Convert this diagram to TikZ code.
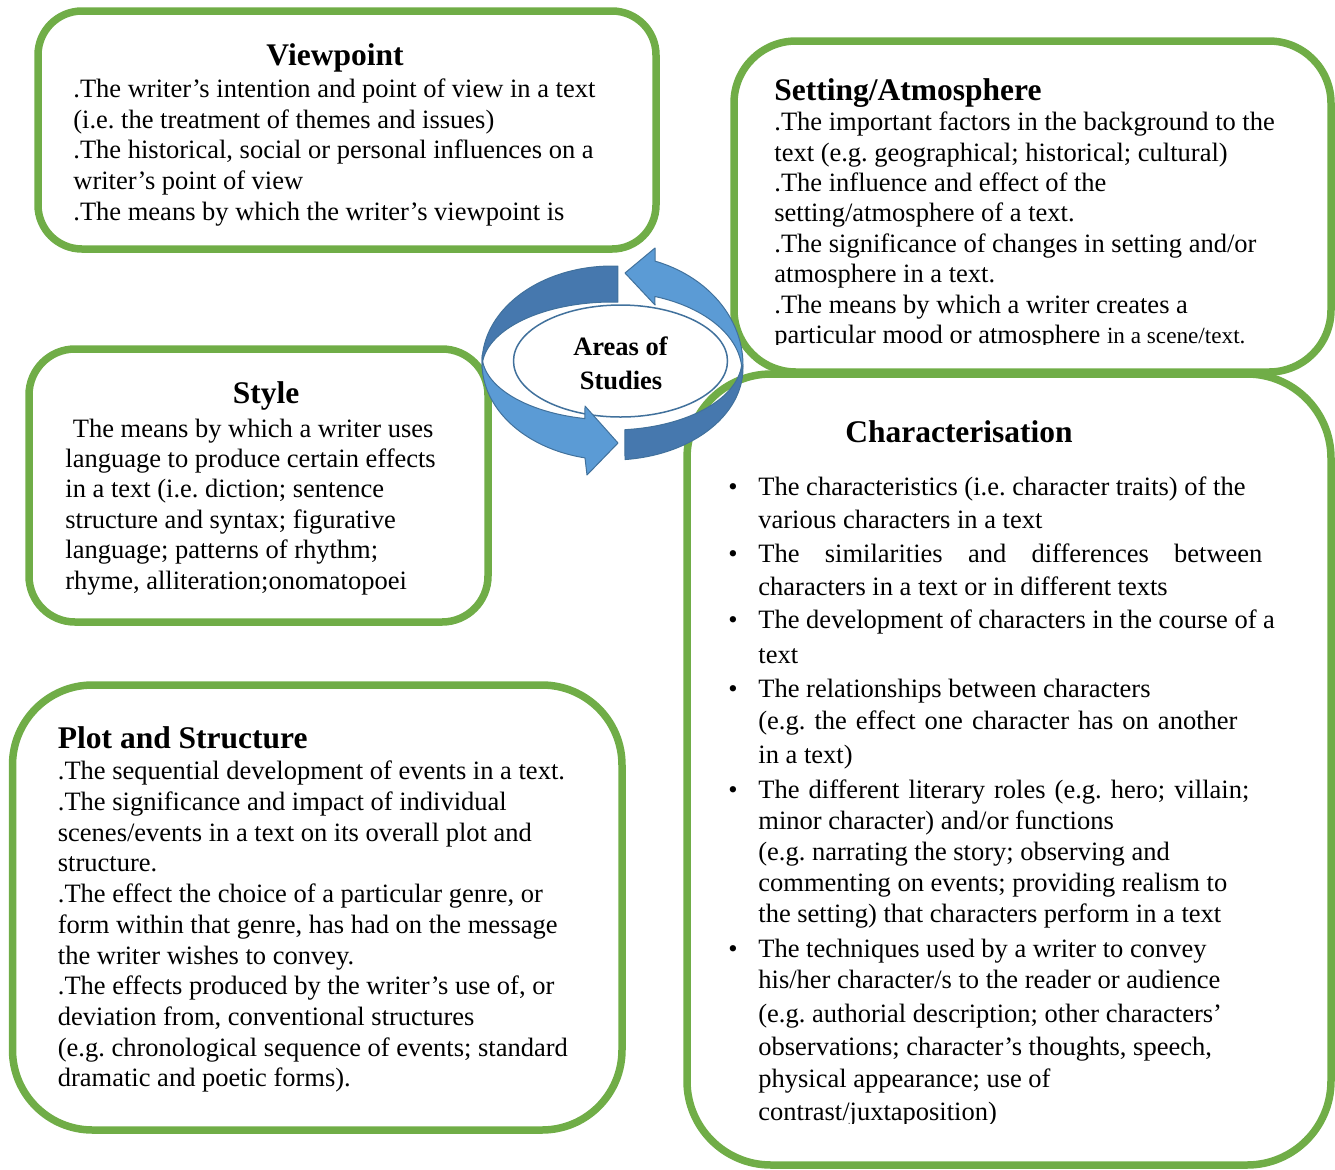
\documentclass[tikz,border=0pt]{standalone}
\usepackage{fontspec}
\setmainfont{Liberation Serif}
\usetikzlibrary{shapes.geometric}
\definecolor{boxgreen}{HTML}{70AD47}
\definecolor{bandLight}{HTML}{5B9BD5}
\definecolor{bandDark}{HTML}{4678AE}
\definecolor{bandEdge}{HTML}{41719C}
\newcommand{\bodyfont}{\fontsize{13.25pt}{15pt}\selectfont}
\newcommand{\titlefont}{\fontsize{15.75pt}{18pt}\selectfont\bfseries}
\frenchspacing
\tikzset{
  box/.style={draw=boxgreen, line width=3.75pt, rectangle, inner sep=0pt},
  ln/.style={anchor=base west, inner sep=0pt, font=\bodyfont},
  ttl/.style={anchor=base, inner sep=0pt, font=\titlefont},
  ttlw/.style={anchor=base west, inner sep=0pt, font=\titlefont},
  bul/.style={anchor=base, inner sep=0pt, font=\bodyfont},
  darkband/.style={fill=bandDark, draw=bandEdge, line width=0.5pt, line join=round},
  lightband/.style={fill=bandLight, draw=bandEdge, line width=0.5pt, line join=round},
}
\begin{document}
\frenchspacing
\begin{tikzpicture}[x=0.5pt,y=-0.5pt]
\useasboundingbox (0,0) rectangle (1335,1169);

% ---------- boxes ----------
\node[box, minimum width=309pt, minimum height=119pt, rounded corners=22pt] (viewpoint) at (347,130) {};
\node[box, minimum width=298.5pt, minimum height=165.5pt, rounded corners=31pt] (setting) at (1032.5,206.5) {};
\node[box, minimum width=229.5pt, minimum height=136.5pt, rounded corners=23pt] (style) at (258.5,485.5) {};
\node[box, minimum width=304.75pt, minimum height=222.5pt, rounded corners=40pt] (plot) at (317.25,907.5) {};
\node[box, minimum width=322pt, minimum height=395.5pt, rounded corners=42pt] (charac) at (1009,769.5) {};

% ---------- Viewpoint ----------
\node[ttl] (vp0) at (335,65) {Viewpoint};
\node[ln] (vp1) at (73,97.5) {.The writer’s intention and point of view in a text};
\node[ln] (vp2) at (73,128.2) {(i.e. the treatment of themes and issues)};
\node[ln] (vp3) at (73,158.9) {.The historical, social or personal influences on a};
\node[ln] (vp4) at (73,189.6) {writer’s point of view};
\node[ln] (vp5) at (73,220.3) {.The means by which the writer’s viewpoint is};

% ---------- Setting ----------
\begin{scope}
\clip (734,41) rectangle (1331,344.5);
\node[ttlw] (st0) at (774,100) {Setting/Atmosphere};
\node[ln] (st1) at (774,130.5) {.The important factors in the background to the};
\node[ln] (st2) at (774,161) {text (e.g. geographical; historical; cultural)};
\node[ln] (st3) at (774,191.4) {.The influence and effect of the};
\node[ln] (st4) at (774,221.9) {setting/atmosphere of a text.};
\node[ln] (st5) at (774,252.3) {.The significance of changes in setting and/or};
\node[ln] (st6) at (774,282.8) {atmosphere in a text.};
\node[ln] (st7) at (774,313.2) {.The means by which a writer creates a};
\node[ln] (st8) at (774,343.7) {particular mood or atmosphere {\fontsize{11.6pt}{13pt}\selectfont in a scene/text.}};
\end{scope}

% ---------- Style ----------
\node[ttl] (sy0) at (266,403.3) {Style};
\node[ln] (sy1) at (72.5,437.2) {The means by which a writer uses};
\node[ln] (sy2) at (65,467.5) {language to produce certain effects};
\node[ln] (sy3) at (65,497.9) {in a text (i.e. diction; sentence};
\node[ln] (sy4) at (65,528.3) {structure and syntax; figurative};
\node[ln] (sy5) at (65,558.6) {language; patterns of rhythm;};
\node[ln] (sy6) at (65,589) {rhyme, alliteration;onomatopoei};

% ---------- Plot and Structure ----------
\node[ttlw] (pl0) at (57.5,748.8) {Plot and Structure};
\node[ln] (pl1) at (57.5,779.8) {.The sequential development of events in a text.};
\node[ln] (pl2) at (57.5,810.5) {.The significance and impact of individual};
\node[ln] (pl3) at (57.5,841.2) {scenes/events in a text on its overall plot and};
\node[ln] (pl4) at (57.5,871.9) {structure.};
\node[ln] (pl5) at (57.5,902.6) {.The effect the choice of a particular genre, or};
\node[ln] (pl6) at (57.5,933.3) {form within that genre, has had on the message};
\node[ln] (pl7) at (57.5,964) {the writer wishes to convey.};
\node[ln] (pl8) at (57.5,994.7) {.The effects produced by the writer’s use of, or};
\node[ln] (pl9) at (57.5,1025.4) {deviation from, conventional structures};
\node[ln] (pl10) at (57.5,1056.1) {(e.g. chronological sequence of events; standard};
\node[ln] (pl11) at (57.5,1086.8) {dramatic and poetic forms).};

% ---------- Characterisation ----------
\node[ttl] (ch0) at (959,442.2) {Characterisation};
\begin{scope}
\clip (687,374) rectangle (1331,1123);
\node[bul] (b1) at (733,495.5) {•};
\node[ln] (ch1) at (758,495.5) {The characteristics (i.e. character traits) of the};
\node[ln] (ch2) at (758,528.5) {various characters in a text};
\node[bul] (b2) at (733,562.2) {•};
\node[ln] (ch3) at (758,562.2) {\makebox[252pt][s]{The similarities and differences between}};
\node[ln] (ch4) at (758,595.5) {characters in a text or in different texts};
\node[bul] (b3) at (733,628.5) {•};
\node[ln] (ch5) at (758,628.5) {The development of characters in the course of a};
\node[ln] (ch6) at (758,663.2) {text};
\node[bul] (b4) at (733,697.2) {•};
\node[ln] (ch7) at (758,697.2) {The relationships between characters};
\node[ln] (ch8) at (758,729) {\makebox[239.5pt][s]{(e.g. the effect one character has on another}};
\node[ln] (ch9) at (758,763.5) {in a text)};
\node[bul] (b5) at (733,798.5) {•};
\node[ln] (ch10) at (758,798.5) {\makebox[245.5pt][s]{The different literary roles (e.g. hero; villain;}};
\node[ln] (ch11) at (758,829.5) {minor character) and/or functions};
\node[ln] (ch12) at (758,860.5) {(e.g. narrating the story; observing and};
\node[ln] (ch13) at (758,891.2) {commenting on events; providing realism to};
\node[ln] (ch14) at (758,922.2) {the setting) that characters perform in a text};
\node[bul] (b6) at (733,957.2) {•};
\node[ln] (ch15) at (758,957.2) {The techniques used by a writer to convey};
\node[ln] (ch16) at (758,988.5) {his/her character/s to the reader or audience};
\node[ln] (ch17) at (758,1022.2) {(e.g. authorial description; other characters’};
\node[ln] (ch18) at (758,1055.5) {observations; character’s thoughts, speech,};
\node[ln] (ch19) at (758,1087.2) {physical appearance; use of};
\node[ln] (ch20) at (758,1120.5) {contrast/juxtaposition)};
\end{scope}

% ---------- centre: ellipse and circular arrows ----------
\node[ellipse, draw=bandEdge, line width=0.75pt, fill=white, inner sep=0pt,
      minimum width=107pt, minimum height=56pt] (ring) at (620.5,361) {};

% left arrow: dark upper part
\path[darkband] plot[domain=-87.4:-180, samples=50] ({612+130*cos(\x)},{363+97*sin(\x)})
  -- plot[domain=-180:-87.4, samples=50] ({612+130*cos(\x)},{368+66*sin(\x)}) -- cycle;
% left arrow: light lower part with head
\path[lightband] plot[domain=180:102, samples=50] ({612+130*cos(\x)},{363+97*sin(\x)})
  -- (587,475) -- (618,443) -- (585,406)
  -- plot[domain=102:180, samples=50] ({612+130*cos(\x)},{355+65*sin(\x)}) -- cycle;
% right arrow: dark lower part
\path[darkband] plot[domain=84.3:0, samples=50] ({612+131*cos(\x)},{368+92*sin(\x)})
  -- plot[domain=0:84.3, samples=50] ({612+130*cos(\x)},{360+70*sin(\x)}) -- cycle;
% right arrow: light upper part with head
\path[lightband] plot[domain=0:-70.8, samples=50] ({612+131*cos(\x)},{365+110*sin(\x)})
  -- (655,248) -- (625,273) -- (655,305)
  -- plot[domain=-70.7:0, samples=50] ({612+130*cos(\x)},{372+80*sin(\x)}) -- cycle;

\node[anchor=base, inner sep=0pt, font=\bodyfont\bfseries] (areas1) at (620.5,355.5) {Areas of};
\node[anchor=base, inner sep=0pt, font=\bodyfont\bfseries] (areas2) at (621,389) {Studies};
\end{tikzpicture}
\end{document}
